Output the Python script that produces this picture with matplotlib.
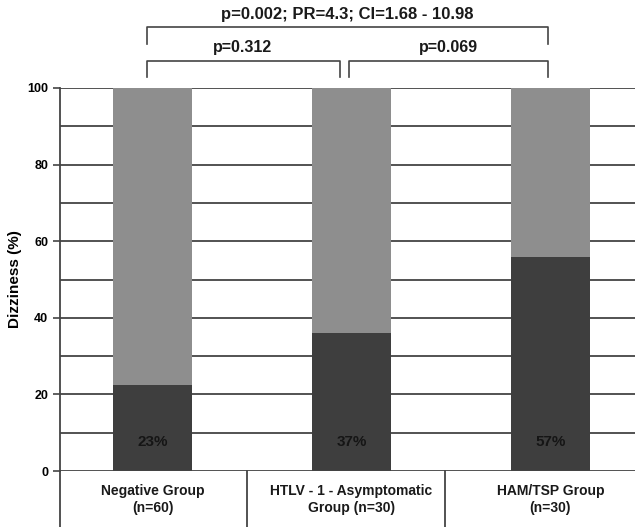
import matplotlib
matplotlib.use('Agg')
import matplotlib.pyplot as plt
import numpy as np

plt.rcParams['font.family'] = ['Liberation Sans', 'DejaVu Sans']
plt.rcParams['font.weight'] = 'bold'
plt.rcParams['axes.labelweight'] = 'bold'

groups = ['Negative Group\n(n=60)', 'HTLV - 1 - Asymptomatic\nGroup (n=30)', 'HAM/TSP Group\n(n=30)']
dizzy = [22.5, 36, 56]
dizzy_labels = ['23%', '37%', '57%']
total = [100, 100, 100]
p_labels = ['p=0.312', 'p=0.069', 'p=0.002; PR=4.3; CI=1.68 - 10.98']

dark = '#3e3e3e'
light = '#8e8e8e'
line_c = '#444444'

W, H = 635, 527
fig = plt.figure(figsize=(W / 100, H / 100), dpi=100)
ax = fig.add_axes([60 / W, (H - 471) / H, 1 - 60 / W, 383 / H])

x = np.arange(len(groups))
ax.bar(x, total, width=0.4, color=light, zorder=2)
ax.bar(x, dizzy, width=0.4, color=dark, zorder=3)
for xi, lab in zip(x, dizzy_labels):
    ax.text(xi, 7.5, lab, ha='center', va='center', fontsize=11, fontweight='bold',
            color='#151515', zorder=4)

for v in range(10, 101, 10):
    ax.axhline(v, color=line_c, lw=1.3, zorder=1)
ax.axhline(0, color=line_c, lw=1.3, zorder=5)

ax.set_xlim(-0.465, 2.425)
ax.set_ylim(0, 100)
ax.set_yticks(range(0, 101, 20))
ax.tick_params(axis='y', labelsize=9, color=line_c, length=5, width=1.2)
ax.set_xticks([])
for s in ['top', 'right', 'bottom']:
    ax.spines[s].set_visible(False)
ax.spines['left'].set_color(line_c)
ax.spines['left'].set_linewidth(1.3)
ax.set_ylabel('Dizziness (%)', fontsize=11, fontweight='bold', labelpad=4)

# table under the axis
for b in [-0.465, 0.475, 1.47]:
    ax.plot([b, b], [0, -15], color=line_c, lw=1.3, clip_on=False)
for xi, g in zip(x, groups):
    ax.text(xi, -7.5, g, ha='center', va='center', fontsize=10, fontweight='bold',
            linespacing=1.3, color='#1a1a1a')

# significance brackets
def bracket(x0, x1, y, tip, txt, ytxt, fs):
    ax.plot([x0, x0, x1, x1], [y - tip, y, y, y - tip], color=line_c, lw=1.2, clip_on=False)
    ax.text((x0 + x1) / 2, ytxt, txt, ha='center', va='center', fontsize=fs,
            fontweight='bold', color='#1a1a1a')

bracket(-0.03, 0.94, 107, 4.2, p_labels[0], 110.6, 11.5)
bracket(0.99, 1.99, 107, 4.2, p_labels[1], 110.6, 11.5)
bracket(-0.03, 1.99, 116, 4.4, p_labels[2], 119.3, 12)

plt.savefig('out.png', dpi=100)
